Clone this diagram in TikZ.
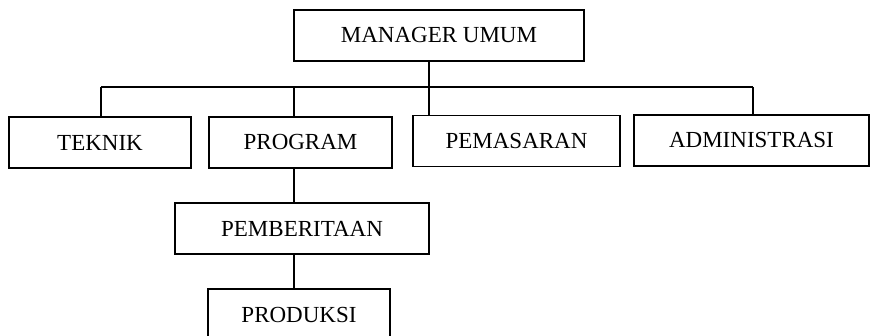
\documentclass[tikz,border=0pt]{standalone}
\usepackage{fontspec}
\setmainfont{Liberation Serif}

\begin{document}
\begin{tikzpicture}[x=1pt, y=-1pt, line width=1.6pt,
    unit/.style={draw, rectangle, minimum height=51pt, inner sep=0pt, font=\fontsize{23}{27}\selectfont}]
    \useasboundingbox (0,0) rectangle (870,336);

    \node[unit, minimum width=290pt] (manager) at (439,35.5) {MANAGER UMUM};
    \node[unit, minimum width=182pt] (teknik) at (100,142.5) {TEKNIK};
    \node[unit, minimum width=183pt] (program) at (300.5,142.5) {PROGRAM};
    \node[unit, minimum width=207pt] (pemasaran) at (516.5,141) {PEMASARAN};
    \node[unit, minimum width=235pt] (administrasi) at (751.5,140.5) {ADMINISTRASI};
    \node[unit, minimum width=254pt] (pemberitaan) at (302,228.5) {PEMBERITAAN};
    \node[unit, minimum width=182pt] (produksi) at (299,314.5) {PRODUKSI};

    % garis bagan
    \coordinate (busL) at (101,87);
    \coordinate (busP) at (294,87);
    \coordinate (busM) at (429,87);
    \coordinate (busR) at (753,87);

    \draw (busL) -- (busR);
    \draw (manager.south -| busM) -- (busM);
    \draw (busL) -- (busL |- teknik.north);
    \draw (busP) -- (busP |- program.north);
    \draw (busM) -- (busM |- pemasaran.north);
    \draw (busR) -- (busR |- administrasi.north);
    \draw (program.south -| busP) -- (pemberitaan.north -| busP);
    \draw (pemberitaan.south -| busP) -- (produksi.north -| busP);
\end{tikzpicture}
\end{document}
